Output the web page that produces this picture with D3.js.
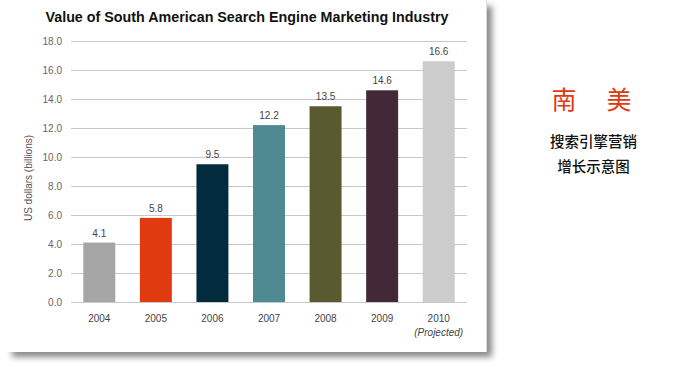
<!DOCTYPE html>
<html><head><meta charset="utf-8">
<script src="https://cdn.jsdelivr.net/npm/d3@7"></script>
<style>body{margin:0;background:#fff;}svg{display:block;}</style>
</head><body>
<script>
const years = ["2004","2005","2006","2007","2008","2009","2010"];
const values = [4.1, 5.8, 9.5, 12.2, 13.5, 14.6, 16.6];
const colors = ["#a6a6a6","#e03a10","#032b3e","#4f8a92","#5a5a30","#432837","#cccccc"];
const yTicks = [0,2,4,6,8,10,12,14,16,18];
const title = "Value of South American Search Engine Marketing Industry";
const yTitle = "US dollars (billions)";
const sideTitle = ["南","美"];
const sideLines = ["搜索引擎营销","增长示意图"];

const W=700,H=367;
const svg=d3.select("body").append("svg").attr("width",W).attr("height",H);
const defs=svg.append("defs");
const f=defs.append("filter").attr("id","sh").attr("x","-5%").attr("y","-5%").attr("width","115%").attr("height","115%");
f.append("feGaussianBlur").attr("stdDeviation",3);

// card shadow + card
svg.append("rect").attr("x",12).attr("y",6).attr("width",480).attr("height",351).attr("fill","#888").attr("filter","url(#sh)");
svg.append("rect").attr("x",0).attr("y",0).attr("width",487).attr("height",352).attr("fill","#fff");
svg.append("line").attr("x1",486.5).attr("x2",486.5).attr("y1",0).attr("y2",352).attr("stroke","#ddd");

const x=d3.scaleBand().domain(years).range([71,467]).paddingInner(0.435).paddingOuter(0.2175);
const y=d3.scaleLinear().domain([0,18]).range([302,41]);

const font="Liberation Sans, Arial, sans-serif";

// grid
svg.append("g").selectAll("line").data(yTicks).join("line")
 .attr("x1",71).attr("x2",467).attr("y1",d=>Math.round(y(d))+0.5).attr("y2",d=>Math.round(y(d))+0.5)
 .attr("stroke","#c8c8c8");

// y labels
svg.append("g").selectAll("text").data(yTicks).join("text")
 .attr("x",62).attr("y",d=>y(d)+3.5).attr("text-anchor","end")
 .attr("font-family",font).attr("font-size",10).attr("fill","#666").text(d=>d.toFixed(1));

// bars
svg.append("g").selectAll("rect").data(values).join("rect")
 .attr("x",(d,i)=>x(years[i])).attr("width",x.bandwidth())
 .attr("y",d=>y(d)).attr("height",d=>y(0)-y(d)).attr("fill",(d,i)=>colors[i]);

// value labels
svg.append("g").selectAll("text").data(values).join("text")
 .attr("x",(d,i)=>x(years[i])+x.bandwidth()/2).attr("y",d=>y(d)-6)
 .attr("text-anchor","middle").attr("font-family",font).attr("font-size",10).attr("fill","#444")
 .text(d=>d.toFixed(1));

// x labels
svg.append("g").selectAll("text").data(years).join("text")
 .attr("x",d=>x(d)+x.bandwidth()/2).attr("y",322)
 .attr("text-anchor","middle").attr("font-family",font).attr("font-size",10).attr("fill","#444").text(d=>d);
svg.append("text").attr("x",x("2010")+x.bandwidth()/2).attr("y",336).attr("text-anchor","middle")
 .attr("font-family",font).attr("font-size",10).attr("font-style","italic").attr("fill","#444").text("(Projected)");

// y title
svg.append("text").attr("transform","translate(32,178) rotate(-90)").attr("text-anchor","middle")
 .attr("font-family",font).attr("font-size",10).attr("fill","#555").text(yTitle);

// title
svg.append("text").attr("x",247).attr("y",22).attr("text-anchor","middle")
 .attr("font-family",font).attr("font-size",14.3).attr("font-weight","bold").attr("fill","#111").text(title);

// side text
const cjk="Noto Sans CJK SC, sans-serif";
svg.append("text").attr("x",564).attr("y",109).attr("text-anchor","middle").attr("font-family",cjk)
 .attr("font-size",25).attr("fill","#e03a10").text(sideTitle[0]);
svg.append("text").attr("x",619).attr("y",109).attr("text-anchor","middle").attr("font-family",cjk)
 .attr("font-size",25).attr("fill","#e03a10").text(sideTitle[1]);
sideLines.forEach((t,i)=>{
 svg.append("text").attr("x",593.5).attr("y",147+i*25).attr("text-anchor","middle").attr("font-family",cjk)
  .attr("font-size",14.5).attr("font-weight",500).attr("fill","#111").text(t);
});
</script>
</body></html>
